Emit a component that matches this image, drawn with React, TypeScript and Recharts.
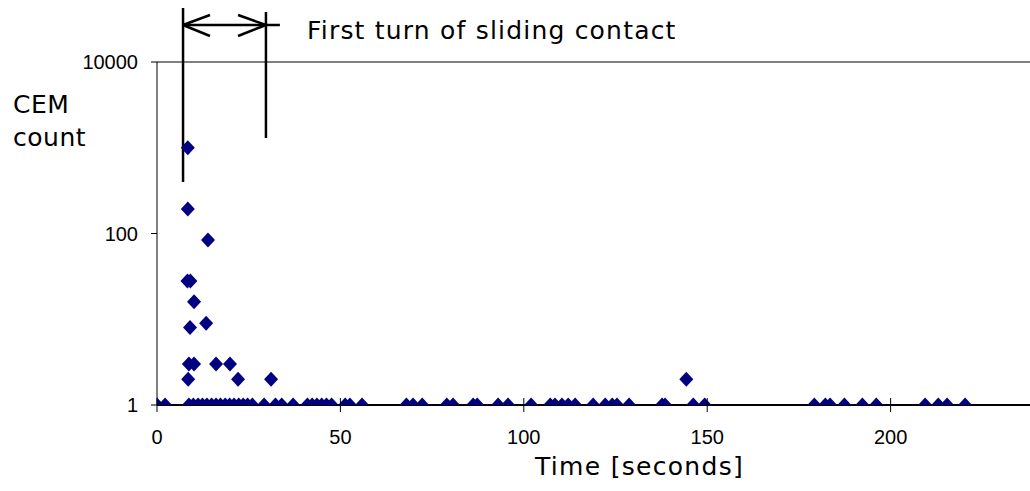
import React from 'react'
import {
  ScatterChart,
  Scatter,
  XAxis,
  YAxis,
  ReferenceLine,
} from 'recharts'

// peaks above the baseline (seconds, CEM count)
const burstTimes = [8.4, 8.4, 13.9, 8.3, 9.1, 10.1, 9.0, 13.4, 8.7, 10.1, 16.1, 19.9, 8.5, 22.1, 31.1, 144.3]
const burstCounts = [1000, 193, 84, 28, 28, 16, 8, 9, 3, 3, 3, 3, 2, 2, 2, 2]

// readings that sit at a count of 1
const quietTimes = [
  0, 2.2, 8.7, 9.9, 11.2, 12.4, 13.6, 14.9, 16.1, 17.3, 18.6, 19.8, 21.0, 22.3,
  23.5, 24.7, 26.0, 29.2, 32.3, 34.0, 37.1, 41.0, 42.3, 43.6, 44.9, 46.2, 47.6,
  51.3, 52.6, 55.9, 68.0, 69.8, 72.3, 79.0, 80.7, 86.2, 87.3, 93.0, 95.7, 102.0,
  107.2, 108.5, 110.4, 112.1, 114.0, 118.9, 122.2, 124.1, 125.4, 128.7, 137.7,
  138.5, 146.2, 149.3, 179.2, 182.2, 183.5, 187.4, 192.3, 196.1, 209.4, 213.0,
  215.4, 220.3,
]

const xTicks = [0, 50, 100, 150, 200]
const yTicks = [1, 100, 10000]

// "first turn" bracket drawn above the plot, in data units
const bracketSegments = [
  [{ x: 7.1, y: 42650 }, { x: 7.1, y: 399 }],
  [{ x: 29.7, y: 38300 }, { x: 29.7, y: 1300 }],
  [{ x: 7.1, y: 27000 }, { x: 33.5, y: 27000 }],
  [{ x: 7.1, y: 27000 }, { x: 14.45, y: 35300 }],
  [{ x: 7.1, y: 27000 }, { x: 14.45, y: 20100 }],
  [{ x: 29.7, y: 27000 }, { x: 22.1, y: 35300 }],
  [{ x: 29.7, y: 27000 }, { x: 22.1, y: 20100 }],
]

const points = [
  ...quietTimes.map((t) => ({ t, count: 1 })),
  ...burstTimes.map((t, i) => ({ t, count: burstCounts[i] })),
]

const tickFont = '"Liberation Sans", Arial, sans-serif'
const labelFont = '"DejaVu Sans", sans-serif'

const renderDiamond = (props: any) => {
  const { cx, cy } = props
  const w = 7
  const h = 7.5
  return (
    <path
      d={`M${cx},${cy - h}L${cx + w},${cy}L${cx},${cy + h}L${cx - w},${cy}Z`}
      fill="#000080"
    />
  )
}

const XTick = (props: any) => {
  const { x, y, payload } = props
  return (
    <g>
      <line x1={x} x2={x} y1={y - 7} y2={y + 7} stroke="#000" strokeWidth={1} />
      <text x={x} y={y + 39} textAnchor="middle" fontSize={20} fontFamily={tickFont} fill="#000">
        {payload.value}
      </text>
    </g>
  )
}

export default function App() {
  return (
    <div style={{ position: 'fixed', left: 0, top: 0, width: 1030, height: 491, background: '#fff' }}>
      <ScatterChart width={1030} height={491} margin={{ top: 62, right: 0, bottom: 0, left: 0 }}>
        <XAxis
          type="number"
          dataKey="t"
          domain={[0, 238]}
          ticks={xTicks}
          allowDataOverflow
          height={86}
          axisLine={{ stroke: '#000', strokeWidth: 2 }}
          tickLine={false}
          tickSize={0}
          tickMargin={0}
          tick={<XTick />}
        />
        <YAxis
          type="number"
          dataKey="count"
          scale="log"
          domain={[1, 10000]}
          ticks={yTicks}
          allowDataOverflow
          width={157}
          axisLine={{ stroke: '#000', strokeWidth: 1 }}
          tickLine={{ stroke: '#000' }}
          tickSize={6}
          tickMargin={13}
          tick={{ fontSize: 20, fontFamily: tickFont, fill: '#000' }}
        />
        <ReferenceLine y={10000} stroke="#000" strokeWidth={1} />
        {bracketSegments.map((seg, i) => (
          <ReferenceLine
            key={i}
            segment={seg}
            stroke="#000"
            strokeWidth={2.5}
            ifOverflow="visible"
          />
        ))}
        <Scatter data={points} shape={renderDiamond} isAnimationActive={false} />
      </ScatterChart>
      <div style={{ position: 'absolute', left: 307, top: 16, fontFamily: labelFont, fontSize: 25, letterSpacing: 1.2, lineHeight: '30px', color: '#000', whiteSpace: 'nowrap' }}>
        First turn of sliding contact
      </div>
      <div style={{ position: 'absolute', left: 13, top: 88, fontFamily: labelFont, fontSize: 25, letterSpacing: 0.5, lineHeight: '33px', color: '#000' }}>
        CEM<br />count
      </div>
      <div style={{ position: 'absolute', left: 535, top: 452, fontFamily: labelFont, fontSize: 25, letterSpacing: 1.3, lineHeight: '30px', color: '#000', whiteSpace: 'nowrap' }}>
        Time [seconds]
      </div>
    </div>
  )
}
